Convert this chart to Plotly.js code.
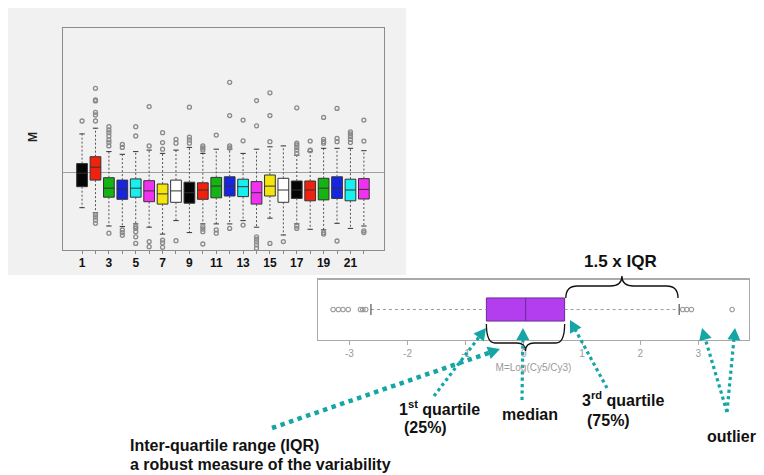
<!DOCTYPE html>
<html>
<head>
<meta charset="utf-8">
<script src="https://cdn.plot.ly/plotly-3.0.1.min.js"></script>
<style>
  html, body { margin: 0; padding: 0; background: #ffffff; }
  #chart { width: 764px; height: 475px; }
</style>
</head>
<body>
<div id="chart"></div>
<script>
// ---- Array boxplot: M values for 22 arrays ----
const arrayIds   = [1,2,3,4,5,6,7,8,9,10,11,12,13,14,15,16,17,18,19,20,21,22];
const arrayTicks = ['1','','3','','5','','7','','9','','11','','13','','15','','17','','19','','21',''];
const boxColors  = ['#050505','#f0220f','#14b414','#1626e0','#18f0f0','#f032f0','#f5e50c','#ffffff',
                    '#050505','#f0220f','#14b414','#1626e0','#18f0f0','#f032f0','#f5e50c','#ffffff',
                    '#050505','#f0220f','#14b414','#1626e0','#18f0f0','#f032f0'];
const mQ1     = [-0.49,-0.27,-0.84,-0.91,-0.84,-0.99,-1.07,-1.01,-1.04,-0.91,-0.86,-0.80,-0.82,-1.07,-0.80,-1.01,-0.88,-0.96,-0.93,-0.88,-0.96,-0.90];
const mMedian = [-0.04, 0.16,-0.54,-0.58,-0.54,-0.63,-0.73,-0.63,-0.69,-0.60,-0.47,-0.47,-0.49,-0.69,-0.47,-0.60,-0.60,-0.60,-0.54,-0.54,-0.60,-0.58];
const mQ3     = [ 0.28, 0.51,-0.19,-0.27,-0.23,-0.29,-0.40,-0.27,-0.34,-0.36,-0.18,-0.16,-0.24,-0.32,-0.10,-0.21,-0.30,-0.30,-0.21,-0.16,-0.24,-0.22];
const mLowW   = [-1.19,-1.36,-1.80,-1.82,-1.73,-1.84,-2.07,-1.62,-2.02,-1.73,-1.73,-1.73,-1.62,-1.84,-1.54,-2.10,-1.73,-1.91,-1.93,-1.71,-1.88,-1.80];
const mHighW  = [ 1.27, 1.46, 0.68, 0.59, 0.68, 0.73, 0.62, 0.73, 0.82, 0.62, 0.76, 0.76, 0.62, 0.76, 0.84, 0.87, 0.56, 0.68, 0.79, 0.79, 0.79, 0.71];
const mOutliers = [
  [1.70],
  [2.79,2.40,2.37,1.99,1.90,1.70,-1.42,-1.50,-1.60,-1.71],
  [1.51,1.40,1.31,1.20,1.07,0.98,0.87,-2.04],
  [0.92,0.82,-1.93,-2.02,-2.11],
  [1.51,1.20,-1.82,-1.88,-1.99,-2.16,-2.38],
  [2.18,0.87,-2.32,-2.49],
  [1.31,0.98,0.76,-2.27,-2.36,-2.51],
  [1.09,0.96,-2.29],
  [2.16,1.16,1.07,0.96],
  [0.87,0.80,0.73,-1.82,-1.90,-1.99,-2.40],
  [1.23,-1.93,-2.04],
  [2.99,1.88,0.87,0.80,-1.88],
  [1.73,1.04,-1.77],
  [2.38,1.54,-2.16,-2.24,-2.33,-2.43,-2.54],
  [2.64,1.88,1.01,-2.38],
  [-2.32],
  [2.14,0.96,0.90,0.82,0.73,0.62,-1.80,-1.88],
  [1.03,0.73,0.71],
  [1.82,1.09,1.01,0.96,-2.02,-2.07],
  [2.12,1.12,1.01,-2.30],
  [1.34,1.27,1.18,1.09,0.98],
  [1.73,1.03,-1.96,-2.02]
];

// ---- Single annotated boxplot of M=Log(Cy5/Cy3) ----
const sQ1 = -0.645, sMedian = 0.03, sQ3 = 0.70, sLowW = -2.63, sHighW = 2.67;
const sOutliers = [-3.28,-3.19,-3.11,-3.02,-2.81,-2.77,-2.72,2.73,2.80,2.88,3.58];
const sTickVals = [-3,-2,-1,0,1,2,3];
const sTickText = ['-3','-2','-1','0','1','2','3'];

// ---- page geometry helpers (pixels -> paper) ----
const W = 764, H = 475;
const px = v => v / W;
const py = v => 1 - v / H;
const TEAL = '#14a6a6';
const FONT = 'Liberation Sans, Arial, sans-serif';

const traces = [];

// whiskers (dotted) and caps for the array boxplot
const wx = [], wy = [], cx = [], cy = [];
arrayIds.forEach((id, i) => {
  wx.push(id, id, null, id, id, null);
  wy.push(mQ3[i], mHighW[i], null, mQ1[i], mLowW[i], null);
  cx.push(id - 0.2, id + 0.2, null, id - 0.2, id + 0.2, null);
  cy.push(mHighW[i], mHighW[i], null, mLowW[i], mLowW[i], null);
});
traces.push({type:'scatter', mode:'lines', x:wx, y:wy, xaxis:'x', yaxis:'y',
  line:{color:'#555555', width:1, dash:'2px,2px'}, hoverinfo:'skip', showlegend:false});
traces.push({type:'scatter', mode:'lines', x:cx, y:cy, xaxis:'x', yaxis:'y',
  line:{color:'#333333', width:1}, hoverinfo:'skip', showlegend:false});

// outlier points
const ox = [], oy = [];
mOutliers.forEach((arr, i) => arr.forEach(v => { ox.push(arrayIds[i]); oy.push(v); }));
traces.push({type:'scatter', mode:'markers', x:ox, y:oy, xaxis:'x', yaxis:'y',
  marker:{symbol:'circle-open', size:4, color:'#8a8a8a', line:{width:1.3}},
  hoverinfo:'skip', showlegend:false});

// coloured boxes
arrayIds.forEach((id, i) => {
  traces.push({type:'box', x:[id], q1:[mQ1[i]], median:[mMedian[i]], q3:[mQ3[i]],
    lowerfence:[mQ1[i]], upperfence:[mQ3[i]], width:0.8, whiskerwidth:0,
    fillcolor:boxColors[i], line:{color:'#333333', width:1}, boxpoints:false,
    xaxis:'x', yaxis:'y', hoverinfo:'skip', showlegend:false});
});

// single horizontal boxplot: whiskers, caps, outliers, box
traces.push({type:'scatter', mode:'lines', x:[sLowW, sQ1, null, sQ3, sHighW], y:[0,0,null,0,0],
  xaxis:'x2', yaxis:'y2', line:{color:'#9a9a9a', width:1, dash:'3px,3px'},
  hoverinfo:'skip', showlegend:false});
traces.push({type:'scatter', mode:'lines', x:[sLowW, sLowW, null, sHighW, sHighW], y:[-0.18,0.18,null,-0.18,0.18],
  xaxis:'x2', yaxis:'y2', line:{color:'#555555', width:1.2}, hoverinfo:'skip', showlegend:false});
traces.push({type:'scatter', mode:'markers', x:sOutliers, y:sOutliers.map(() => 0),
  xaxis:'x2', yaxis:'y2', marker:{symbol:'circle-open', size:4.5, color:'#9a9a9a', line:{width:1.2}},
  hoverinfo:'skip', showlegend:false});
traces.push({type:'box', orientation:'h', y:[0], q1:[sQ1], median:[sMedian], q3:[sQ3],
  lowerfence:[sQ1], upperfence:[sQ3], width:0.77, whiskerwidth:0,
  fillcolor:'#b23ef0', line:{color:'#6b2a92', width:1}, boxpoints:false,
  xaxis:'x2', yaxis:'y2', hoverinfo:'skip', showlegend:false});

// ---- braces (x in data units of the lower axis, y in paper) ----
function brace(x0, x1, yEnd, yMid, yTip, r) {
  const xm = (x0 + x1) / 2;
  return `M${x0},${yEnd} Q${x0},${yMid} ${x0 + r},${yMid} L${xm - r},${yMid} ` +
         `Q${xm},${yMid} ${xm},${yTip} Q${xm},${yMid} ${xm + r},${yMid} ` +
         `L${x1 - r},${yMid} Q${x1},${yMid} ${x1},${yEnd}`;
}

const shapes = [
  // grey panel behind the array boxplot
  {type:'rect', xref:'paper', yref:'paper', x0:px(8), x1:px(406), y0:py(275), y1:py(8),
   fillcolor:'#f1f1f1', line:{width:0}, layer:'below'},
  // 1.5 x IQR brace over the upper whisker
  {type:'path', xref:'x2', yref:'paper', path:brace(sQ3 + 0.02, sHighW - 0.02, py(298), py(286), py(276), 0.2),
   line:{color:'#111111', width:1.3}},
  // IQR brace under the box
  {type:'path', xref:'x2', yref:'paper', path:brace(sQ1, sQ3, py(324), py(343), py(351), 0.15),
   line:{color:'#111111', width:1.3}}
];

// dotted teal pointers with solid triangular heads (page pixels -> paper)
const pointers = [
  {from:[272,428], to:[500,349], w:4.5},   // IQR
  {from:[434,396], to:[486,328], w:3.2},   // 1st quartile
  {from:[522,400], to:[523,328], w:3.2},   // median
  {from:[607,388], to:[570,320], w:3.2},   // 3rd quartile
  {from:[727,412], to:[702,328], w:3.2},   // outlier (left)
  {from:[727,412], to:[735,328], w:3.2}    // outlier (right)
];
pointers.forEach(p => {
  const dx = p.to[0] - p.from[0], dy = p.to[1] - p.from[1];
  const len = Math.hypot(dx, dy), ux = dx / len, uy = dy / len;
  const head = 12, half = 6.5;
  const bx = p.to[0] - ux * head, by = p.to[1] - uy * head;
  shapes.push({type:'line', xref:'paper', yref:'paper',
    x0:px(p.from[0]), y0:py(p.from[1]), x1:px(bx + ux * 2), y1:py(by + uy * 2),
    line:{color:TEAL, width:p.w, dash:'dot'}});
  const l = [bx - uy * half, by + ux * half], r = [bx + uy * half, by - ux * half];
  shapes.push({type:'path', xref:'paper', yref:'paper',
    path:`M${px(p.to[0])},${py(p.to[1])} L${px(l[0])},${py(l[1])} L${px(r[0])},${py(r[1])} Z`,
    fillcolor:TEAL, line:{width:0}});
});

const annotations = [];
function label(text, x, y, size, anchor) {
  annotations.push({xref:'paper', yref:'paper', x:px(x), y:py(y), text:text, showarrow:false,
    xanchor:anchor || 'left', yanchor:'middle',
    font:{family:FONT, size:size, color:'#111111', weight:'bold'}});
}
label('1.5 x IQR', 620, 261, 17, 'center');
label('1<sup>st</sup> quartile', 397, 408, 16);
label('(25%)', 402, 427, 16);
label('median', 500, 414, 16);
label('3<sup>rd</sup> quartile', 580, 399, 16);
label('(75%)', 585, 420, 16);
label('outlier', 705, 436, 16);
label('Inter-quartile range (IQR)', 128, 445, 16);
label('a robust measure of the variability', 128, 464, 16);
// y-axis label of the array boxplot
annotations.push({xref:'paper', yref:'paper', x:px(33), y:py(137), text:'M', showarrow:false,
  textangle:-90, xanchor:'center', yanchor:'middle',
  font:{family:FONT, size:12, color:'#222222', weight:'bold'}});

const layout = {
  width: W, height: H,
  margin: {l:0, r:0, t:0, b:0, pad:0},
  paper_bgcolor: '#ffffff',
  plot_bgcolor: 'rgba(0,0,0,0)',
  boxmode: 'overlay',
  showlegend: false,
  xaxis: {domain:[px(63), px(384)], range:[-0.42, 23.5], anchor:'y',
    tickmode:'array', tickvals:arrayIds, ticktext:arrayTicks,
    ticks:'outside', ticklen:3, tickcolor:'#888888', tickwidth:1, ticklabelstandoff:-2,
    showline:true, mirror:true, linecolor:'#8c8c8c', linewidth:1.2,
    showgrid:false, zeroline:false,
    tickfont:{family:FONT, size:12, color:'#111111', weight:'bold'}},
  yaxis: {domain:[py(250), py(28)], range:[-2.6, 4.8], anchor:'x',
    showticklabels:false, ticks:'', showline:true, mirror:true, linecolor:'#8c8c8c', linewidth:1.2,
    showgrid:false, zeroline:true, zerolinecolor:'#a0a0a0', zerolinewidth:1},
  xaxis2: {domain:[px(318), px(749)], range:[-3.54, 3.87], anchor:'y2',
    tickmode:'array', tickvals:sTickVals, ticktext:sTickText,
    ticks:'outside', ticklen:4, tickcolor:'#aaaaaa',
    showline:true, mirror:true, linecolor:'#aaaaaa', linewidth:1.2,
    showgrid:false, zeroline:false,
    tickfont:{family:FONT, size:10, color:'#9a9a9a'},
    title:{text:'M=Log(Cy5/Cy3)', font:{family:FONT, size:10, color:'#9a9a9a'}, standoff:6}},
  yaxis2: {domain:[py(339.5), py(279.5)], range:[-1, 1], anchor:'x2',
    showticklabels:false, ticks:'', showline:true, mirror:true, linecolor:'#aaaaaa', linewidth:1.2,
    showgrid:false, zeroline:false},
  shapes: shapes,
  annotations: annotations
};

Plotly.newPlot('chart', traces, layout, {displayModeBar:false, staticPlot:true});
</script>
</body>
</html>
